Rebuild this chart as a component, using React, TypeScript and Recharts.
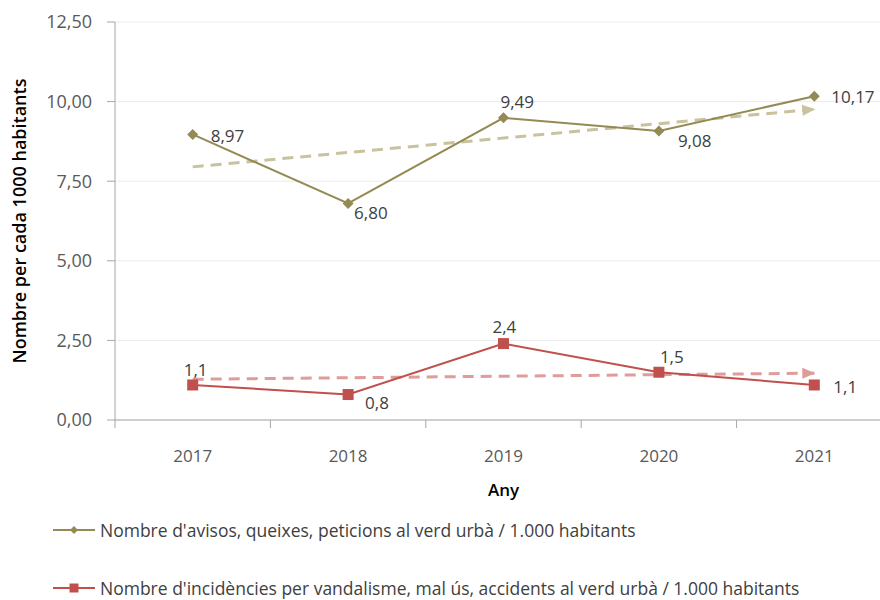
import React from 'react';
import { LineChart, Line, XAxis, YAxis, CartesianGrid, Legend, LabelList } from 'recharts';

const FONT = "'Open Sans', sans-serif";
const OLIVE = '#948A54';
const OLIVE_TREND = '#C9C29F';
const RED = '#C0504D';
const RED_TREND = '#DE9C9A';
const AXIS = '#A6A6A6';

const CHART_W = 900;
const Y_AXIS_W = 115;
const RIGHT = 8;

// Dades llegides del gràfic
const years = ['2017', '2018', '2019', '2020', '2021'];
const avisos = [8.97, 6.8, 9.49, 9.08, 10.17];
const incidencies = [1.1, 0.8, 2.4, 1.5, 1.1];
const avisosTrend = [7.95, null, null, null, 9.76];
const incidenciesTrend = [1.28, null, null, null, 1.47];
const yTicks = [0, 2.5, 5, 7.5, 10, 12.5];

const NAME_AVISOS = "Nombre d'avisos, queixes, peticions al verd urbà / 1.000 habitants";
const NAME_INC = "Nombre d'incidències per vandalisme, mal ús, accidents al verd urbà / 1.000 habitants";

// label placement (dx, dy) relative to the point
const avisosLabelPos = [[18, 1], [6, 9], [-3, -16], [19, 10], [17, 0]];
const incLabelPos = [[-9, -15], [17, 8], [-11, -17], [1, -16], [19, 2]];

const data = years.map((year, i) => ({
  year,
  avisos: avisos[i],
  incidencies: incidencies[i],
  avisosTrend: avisosTrend[i],
  incidenciesTrend: incidenciesTrend[i],
}));

const comma = (v: number, digits: number) => v.toFixed(digits).replace('.', ',');

const TICK_MARGIN = 30;
const HALF_BAND = (CHART_W - Y_AXIS_W - RIGHT) / years.length / 2;

// category label plus tick marks between categories (Excel style)
const XTick = (props: any) => {
  const { x, y, payload, index } = props;
  const axisY = y - TICK_MARGIN;
  return (
    <g>
      <line x1={x - HALF_BAND} x2={x - HALF_BAND} y1={axisY} y2={axisY + 8} stroke={AXIS} />
      {index === years.length - 1 && (
        <line x1={x + HALF_BAND} x2={x + HALF_BAND} y1={axisY} y2={axisY + 8} stroke={AXIS} />
      )}
      <text x={x} y={y} dy="0.71em" textAnchor="middle" fill="#595959" fontSize={17} fontFamily={FONT}>
        {payload.value}
      </text>
    </g>
  );
};

const Diamond = (props: any) => {
  const { cx, cy } = props;
  if (cx == null || cy == null) return <g />;
  const r = 5.5;
  return <path d={`M${cx},${cy - r}L${cx + r},${cy}L${cx},${cy + r}L${cx - r},${cy}Z`} fill={OLIVE} />;
};

const Square = (props: any) => {
  const { cx, cy } = props;
  if (cx == null || cy == null) return <g />;
  return <rect x={cx - 5.5} y={cy - 5.5} width={11} height={11} fill={RED} />;
};

const arrowDot = (color: string) => (props: any) => {
  const { cx, cy, index, points } = props;
  if (cx == null || cy == null || index !== years.length - 1) return <g />;
  let angle = 0;
  const first = (points || []).find((p: any) => p && p.y != null);
  if (first && first.x !== cx) angle = (Math.atan2(cy - first.y, cx - first.x) * 180) / Math.PI;
  return (
    <path
      d="M1,0 L-12,-5.5 L-12,5.5 Z"
      fill={color}
      transform={`translate(${cx},${cy}) rotate(${angle})`}
    />
  );
};

const makeLabel = (pos: number[][], digits: number) => (props: any) => {
  const { x, y, value, index } = props;
  if (value == null || x == null) return null;
  const [dx, dy] = pos[index] || [0, 0];
  return (
    <text
      x={x + dx}
      y={y + dy}
      dominantBaseline="central"
      textAnchor="start"
      fontFamily={FONT}
      fontSize={17}
      fill="#404040"
    >
      {comma(value, digits)}
    </text>
  );
};

const renderLegend = (props: any) => (
  <div style={{ fontFamily: FONT, fontSize: 17.5, color: '#404040', lineHeight: '20px' }}>
    {(props.payload || []).map((entry: any, i: number) => (
      <div
        key={entry.value}
        style={{ display: 'flex', alignItems: 'center', height: 30, marginTop: i === 0 ? 0 : 28, whiteSpace: 'nowrap' }}
      >
        <svg width={42} height={14}>
          <line x1={0} y1={7} x2={42} y2={7} stroke={entry.color} strokeWidth={2} />
          {entry.dataKey === 'avisos' ? (
            <path d="M21,3 L25,7 L21,11 L17,7 Z" fill={entry.color} />
          ) : (
            <rect x={16.5} y={2.5} width={9} height={9} fill={entry.color} />
          )}
        </svg>
        <span style={{ marginLeft: 5 }}>{entry.value}</span>
      </div>
    ))}
  </div>
);

export default function App() {
  return (
    <div style={{ position: 'absolute', left: 0, top: 0, width: 880, height: 600, overflow: 'hidden', background: '#fff' }}>
      <LineChart width={CHART_W} height={600} data={data} margin={{ top: 22, right: RIGHT, left: 0, bottom: 100 }}>
        <CartesianGrid vertical={false} stroke="#EBEBEB" />
        <XAxis
          dataKey="year"
          height={80}
          padding={{ left: HALF_BAND, right: HALF_BAND }}
          axisLine={{ stroke: AXIS }}
          tickLine={false}
          tickSize={0}
          tickMargin={TICK_MARGIN}
          interval={0}
          tick={<XTick />}
          label={{
            value: 'Any',
            position: 'insideBottom',
            offset: 4,
            style: { fill: '#000', fontSize: 17, fontWeight: 600, fontFamily: FONT },
          }}
        />
        <YAxis
          width={Y_AXIS_W}
          domain={[0, 12.5]}
          ticks={yTicks}
          tickSize={8}
          tickMargin={15}
          axisLine={{ stroke: AXIS }}
          tickLine={{ stroke: AXIS }}
          tick={{ fill: '#595959', fontSize: 18, fontFamily: FONT }}
          tickFormatter={(v: number) => comma(v, 2)}
          label={{
            value: 'Nombre per cada 1000 habitants',
            angle: -90,
            position: 'insideLeft',
            offset: 20,
            style: { textAnchor: 'middle', fill: '#000', fontSize: 18, fontWeight: 600, fontFamily: FONT },
          }}
        />
        <Legend
          layout="vertical"
          align="center"
          verticalAlign="middle"
          wrapperStyle={{ left: 53, top: 515, width: 820 }}
          content={renderLegend}
        />
        <Line
          dataKey="avisosTrend"
          stroke={OLIVE_TREND}
          strokeWidth={3}
          strokeDasharray="11 7"
          connectNulls
          dot={arrowDot(OLIVE_TREND)}
          activeDot={false}
          legendType="none"
          isAnimationActive={false}
        />
        <Line
          dataKey="incidenciesTrend"
          stroke={RED_TREND}
          strokeWidth={3}
          strokeDasharray="11 7"
          connectNulls
          dot={arrowDot(RED_TREND)}
          activeDot={false}
          legendType="none"
          isAnimationActive={false}
        />
        <Line
          dataKey="avisos"
          name={NAME_AVISOS}
          stroke={OLIVE}
          strokeWidth={2}
          dot={<Diamond />}
          activeDot={false}
          isAnimationActive={false}
        >
          <LabelList dataKey="avisos" content={makeLabel(avisosLabelPos, 2)} />
        </Line>
        <Line
          dataKey="incidencies"
          name={NAME_INC}
          stroke={RED}
          strokeWidth={2}
          dot={<Square />}
          activeDot={false}
          isAnimationActive={false}
        >
          <LabelList dataKey="incidencies" content={makeLabel(incLabelPos, 1)} />
        </Line>
      </LineChart>
    </div>
  );
}
